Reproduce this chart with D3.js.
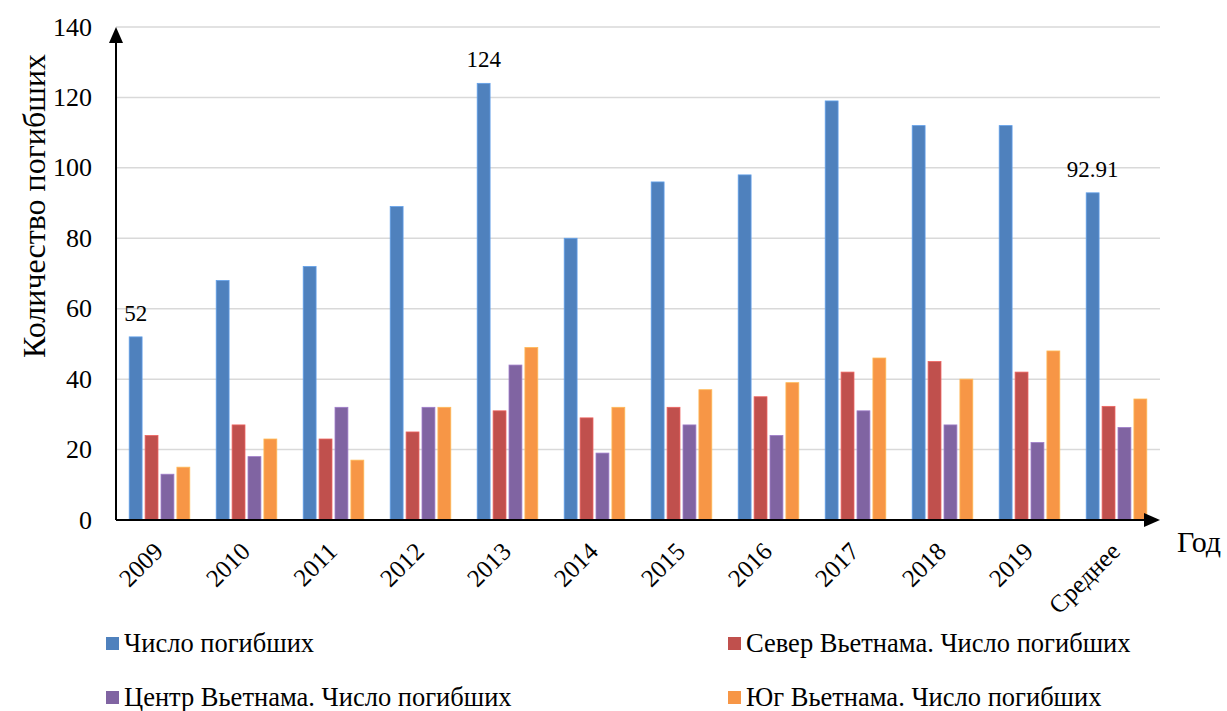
<!DOCTYPE html>
<html>
<head>
<meta charset="utf-8">
<title>Число погибших</title>
<script src="https://cdn.jsdelivr.net/npm/d3@7/dist/d3.min.js"></script>
<style>
  body { margin: 0; background: #fff; }
  svg text { font-family: "Liberation Serif" !important; }
</style>
</head>
<body>
<script>
// данные
const categories = ['2009', '2010', '2011', '2012', '2013', '2014', '2015', '2016', '2017', '2018', '2019', 'Среднее'];
const seriesNames = ['Число погибших', 'Север Вьетнама. Число погибших', 'Центр Вьетнама. Число погибших', 'Юг Вьетнама. Число погибших'];
const total  = [52, 68, 72, 89, 124, 80, 96, 98, 119, 112, 112, 92.91];
const north  = [24, 27, 23, 25, 31, 29, 32, 35, 42, 45, 42, 32.27];
const center = [13, 18, 32, 32, 44, 19, 27, 24, 31, 27, 22, 26.27];
const south  = [15, 23, 17, 32, 49, 32, 37, 39, 46, 40, 48, 34.36];
const yTicks = [0, 20, 40, 60, 80, 100, 120, 140];
const labelled = ['2009', '2013', 'Среднее']; // подписи только над синими столбцами

const colors = ['#4F81BD', '#C0504D', '#8064A2', '#F79646'];
const series = [total, north, center, south];

const W = 1227, H = 711;
const mLeft = 116, mRight = 1160, mTop = 27, mBottom = 520;

const svg = d3.select('body').append('svg')
  .attr('width', W).attr('height', H);

const x = d3.scaleBand().domain(categories).range([mLeft, mRight]).paddingInner(0).paddingOuter(0);
const y = d3.scaleLinear().domain([0, 140]).range([mBottom, mTop]);
const xs = d3.scaleBand().domain(d3.range(series.length))
  .range([0, x.bandwidth()]).paddingInner(0.19).paddingOuter(0.83);

// сетка
svg.append('g').selectAll('line').data(yTicks.filter(d => d > 0)).enter().append('line')
  .attr('x1', mLeft).attr('x2', mRight)
  .attr('y1', d => y(d)).attr('y2', d => y(d))
  .attr('stroke', '#d9d9d9').attr('stroke-width', 1.5);

// подписи оси Y
svg.append('g').selectAll('text').data(yTicks).enter().append('text')
  .attr('x', 92).attr('y', d => y(d))
  .attr('dy', '0.33em')
  .attr('text-anchor', 'end')
  .attr('font-size', 26)
  .text(d => d);

// столбцы
series.forEach(function(vals, s) {
  svg.append('g').selectAll('rect').data(vals).enter().append('rect')
    .attr('x', (d, i) => x(categories[i]) + xs(s))
    .attr('width', xs.bandwidth())
    .attr('y', d => y(d))
    .attr('height', d => y(0) - y(d))
    .attr('fill', colors[s])
    .attr('stroke', d3.color(colors[s]).brighter(0.6))
    .attr('stroke-width', 0.8);
});

// подписи значений
svg.append('g').selectAll('text').data(categories.map((c, i) => ({c: c, v: total[i]})))
  .enter().filter(d => labelled.indexOf(d.c) >= 0)
  .append('text')
  .attr('x', d => x(d.c) + xs(0) + xs.bandwidth() / 2)
  .attr('y', d => y(d.v) - 16)
  .attr('text-anchor', 'middle')
  .attr('font-size', 23)
  .text(d => d.v);

// оси со стрелками
svg.append('line').attr('x1', mLeft).attr('x2', mLeft).attr('y1', mBottom).attr('y2', mTop + 10)
  .attr('stroke', '#000').attr('stroke-width', 2);
svg.append('path').attr('d', `M${mLeft},${mTop} L${mLeft - 7},${mTop + 16} L${mLeft + 7},${mTop + 16} Z`).attr('fill', '#000');
svg.append('line').attr('x1', mLeft).attr('x2', mRight - 10).attr('y1', mBottom).attr('y2', mBottom)
  .attr('stroke', '#000').attr('stroke-width', 2);
svg.append('path').attr('d', `M${mRight},${mBottom} L${mRight - 16},${mBottom - 7} L${mRight - 16},${mBottom + 7} Z`).attr('fill', '#000');

// подписи оси X
svg.append('g').selectAll('text').data(categories).enter().append('text')
  .attr('transform', d => `translate(${x(d) + x.bandwidth() / 2 + 5},${mBottom + 33}) rotate(-45)`)
  .attr('text-anchor', 'end')
  .attr('font-size', 25)
  .text(d => d);

// названия осей
svg.append('text')
  .attr('transform', 'translate(45,206) rotate(-90)')
  .attr('text-anchor', 'middle')
  .attr('font-size', 32)
  .text('Количество погибших');
svg.append('text')
  .attr('x', 1177).attr('y', 552)
  .attr('font-size', 30)
  .text('Год');

// легенда
const legendPos = [[106, 637], [728, 637], [106, 691], [728, 691]];
const legend = svg.append('g').selectAll('g').data(seriesNames).enter().append('g')
  .attr('transform', (d, i) => `translate(${legendPos[i][0]},${legendPos[i][1]})`);
legend.append('rect').attr('x', 0).attr('y', 0).attr('width', 13).attr('height', 13)
  .attr('fill', (d, i) => colors[i]);
legend.append('text').attr('x', 18).attr('y', 15)
  .attr('font-size', 26.5)
  .text(d => d);

// шрифт Times-подобный для всех подписей
svg.selectAll('text').style('font-family', 'Liberation Serif').attr('fill', '#000');
</script>
</body>
</html>
